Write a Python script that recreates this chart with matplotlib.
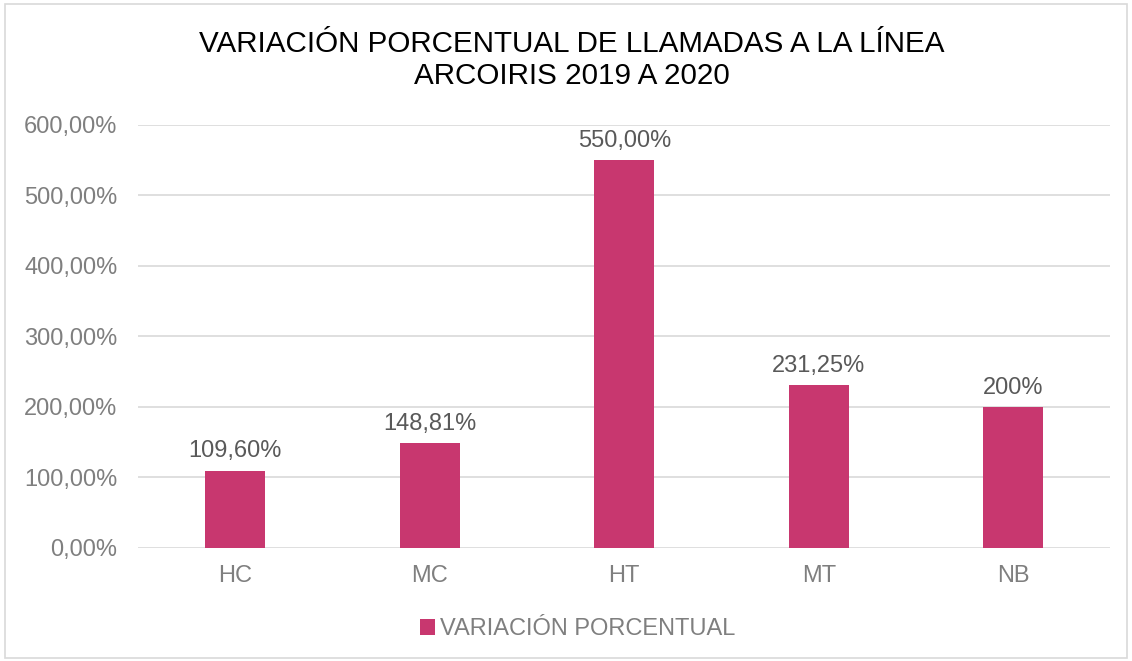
import matplotlib.pyplot as plt
from matplotlib.patches import Rectangle

plt.rcParams['font.family'] = ['Liberation Sans', 'DejaVu Sans']

categories = ['HC', 'MC', 'HT', 'MT', 'NB']
values = [109.60, 148.81, 550.00, 231.25, 200.00]
labels = ['109,60%', '148,81%', '550,00%', '231,25%', '200%']
yticks = [0, 100, 200, 300, 400, 500, 600]
ytick_labels = ['0,00%', '100,00%', '200,00%', '300,00%', '400,00%', '500,00%', '600,00%']

bar_color = '#C8376F'
gray = '#7F7F7F'

fig = plt.figure(figsize=(11.32, 6.61), dpi=100)
ax = fig.add_axes([0.122, 0.171, 0.859, 0.640])

x = range(len(categories))
bars = ax.bar(x, values, width=0.31, color=bar_color, zorder=3,
              label='VARIACIÓN PORCENTUAL')

for xi, v, lab in zip(x, values, labels):
    ax.annotate(lab, (xi, v), xytext=(0, 6), textcoords='offset points',
                ha='center', va='bottom', fontsize=17, color='#595959')

ax.set_xlim(-0.5, len(categories) - 0.5)
ax.set_ylim(0, 600)
ax.set_yticks(yticks)
ax.set_yticklabels(ytick_labels)
ax.set_xticks(list(x))
ax.set_xticklabels(categories)
ax.tick_params(axis='both', length=0, labelsize=17, labelcolor=gray)
ax.tick_params(axis='y', pad=15)
ax.tick_params(axis='x', pad=12)
ax.grid(axis='y', color='#D9D9D9', linewidth=1.2, zorder=0)
for s in ax.spines.values():
    s.set_visible(False)

fig.text(0.505, 0.909, 'VARIACIÓN PORCENTUAL DE LLAMADAS A LA LÍNEA\nARCOIRIS 2019 A 2020',
         ha='center', va='center', fontsize=21.3, color='#000000', linespacing=1.2)

leg = fig.legend(loc='center', bbox_to_anchor=(0.51, 0.048), frameon=False,
                 fontsize=17, handlelength=0.65, handleheight=0.65, handletextpad=0.2)
for t in leg.get_texts():
    t.set_color(gray)

fig.patches.append(Rectangle((0.004, 0.004), 0.992, 0.990, transform=fig.transFigure,
                             fill=False, edgecolor='#D9D9D9', linewidth=1.2))

fig.savefig('out.png', dpi=100)
